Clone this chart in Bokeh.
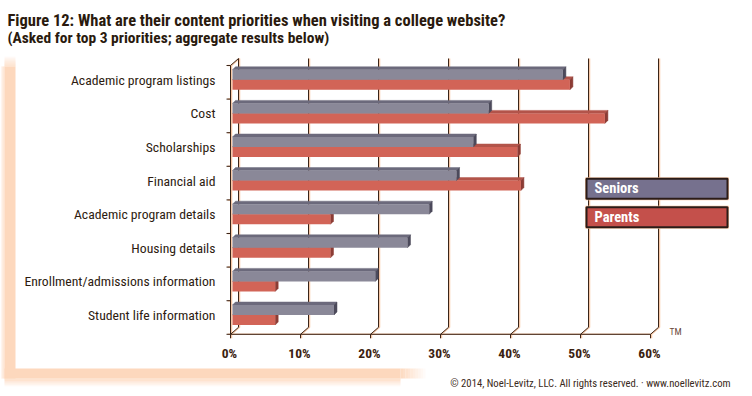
from bokeh.plotting import figure
from bokeh.models import Range1d
from bokeh.core.properties import value
from bokeh.embed import file_html
from bokeh.resources import INLINE

# ---------------- data ----------------
categories = ["Academic program listings", "Cost", "Scholarships", "Financial aid",
              "Academic program details", "Housing details",
              "Enrollment/admissions information", "Student life information"]
seniors = [47.2, 36.6, 34.4, 32.0, 28.1, 25.0, 20.4, 14.5]
parents = [48.2, 53.2, 40.7, 41.2, 14.0, 14.0, 6.1, 6.1]
series_names = ["Seniors", "Parents"]
x_ticks = [0, 10, 20, 30, 40, 50, 60]
x_tick_labels = ["0%", "10%", "20%", "30%", "40%", "50%", "60%"]
title_text = "Figure 12: What are their content priorities when visiting a college website?"
subtitle_text = "(Asked for top 3 priorities; aggregate results below)"
footer_text = "\u00a9 2014, Noel-Levitz, LLC. All rights reserved.  \u00b7  www.noellevitz.com"

# ---------------- layout ----------------
W, H = 752, 396
PXU = 7.0      # px per percent
ROW = 33.6     # px per category row
X0 = 232.0     # canvas x of 0 %
Y0 = 81.8      # canvas y of first row centre
FONT = "Roboto Condensed"

def dx(px):
    return px / PXU

def dy(px):
    return px / ROW

def X(cx):
    return (cx - X0) / PXU

def Y(cy):
    return (cy - Y0) / ROW

p = figure(width=W, height=H, x_range=Range1d(X(0), X(W)), y_range=Range1d(Y(H), Y(0)),
           output_backend="svg", toolbar_location=None, min_border=0,
           x_axis_type=None, y_axis_type=None, outline_line_color=None,
           background_fill_color="white", border_fill_color="white")

PEACH = "#fdd8bd"
# ---- peach glow frame (left + bottom) ----
n = 10
for i in range(n):
    a = (i + 1) / (n + 1)
    # left band, fading in at top
    p.quad(left=X(4), right=X(15), top=Y(56 + i), bottom=Y(57 + i), fill_color=PEACH,
           fill_alpha=a, line_color=None)
    # left band, fading out to the left edge
    p.quad(left=X(i * 0.4), right=X(i * 0.4 + 0.4), top=Y(66), bottom=Y(378),
           fill_color=PEACH, fill_alpha=a, line_color=None)
p.quad(left=X(4), right=X(15), top=Y(66), bottom=Y(378), fill_color=PEACH, line_color=None)
p.quad(left=X(4), right=X(400), top=Y(368), bottom=Y(378), fill_color=PEACH, line_color=None)
for i in range(n):
    a = 1 - (i + 1) / (n + 1)
    p.quad(left=X(4), right=X(400), top=Y(378 + i * 0.8), bottom=Y(378.8 + i * 0.8),
           fill_color=PEACH, fill_alpha=a, line_color=None)
    p.quad(left=X(400 + i * 2.5), right=X(402.5 + i * 2.5), top=Y(368), bottom=Y(378),
           fill_color=PEACH, fill_alpha=a, line_color=None)

# ---- 3D wall / grid ----
top_r = -0.5
bot_r = len(categories) - 0.5
FRONT = dx(-2)
BACK = dx(6)
DEP = dy(7)
grid_xs, grid_ys = [], []
for t in x_ticks:
    grid_xs.append([t + BACK, t + BACK, t + FRONT, t + FRONT])
    grid_ys.append([top_r - DEP, bot_r - DEP, bot_r, bot_r + dy(4)])
grid_xs.append([FRONT, FRONT])
grid_ys.append([bot_r, top_r])
grid_xs.append([FRONT, BACK])
grid_ys.append([top_r, top_r - DEP])
grid_xs.append([FRONT, x_ticks[-1] + FRONT])
grid_ys.append([bot_r, bot_r])
for j in range(len(categories) + 1):
    grid_xs.append([FRONT - dx(4), FRONT])
    grid_ys.append([top_r + j, top_r + j])

p.multi_line(xs=[[x + dx(1) for x in xs] for xs in grid_xs], ys=grid_ys,
             line_color="#f7c7a5", line_width=1.5)
p.multi_line(xs=grid_xs, ys=grid_ys, line_color="#3a2418", line_width=1)

# ---- bars ----
D3 = 3.0
def draw_bars(vals, off_top, off_bot, c_front, c_top, c_side):
    fl, fr, ft, fb = [], [], [], []
    txs, tys, sxs, sys_ = [], [], [], []
    for i, v in enumerate(vals):
        t = i + dy(off_top)
        b = i + dy(off_bot)
        fl.append(0); fr.append(v); ft.append(t); fb.append(b)
        txs.append([0, dx(D3), v + dx(D3), v])
        tys.append([t, t - dy(D3), t - dy(D3), t])
        sxs.append([v, v + dx(D3), v + dx(D3), v])
        sys_.append([t, t - dy(D3), b - dy(D3), b])
    p.patches(xs=txs, ys=tys, fill_color=c_top, line_color=c_top, line_width=0.5)
    p.patches(xs=sxs, ys=sys_, fill_color=c_side, line_color=c_side, line_width=0.5)
    p.quad(left=fl, right=fr, top=ft, bottom=fb, fill_color=c_front, line_color=None)

draw_bars(parents, -2.5, 7.5, "#d26457", "#b3544a", "#8c3c35")
draw_bars(seniors, -12.5, -2.5, "#8a8898", "#6c6a7c", "#4c4a5b")

# ---- category labels ----
p.text(x=[X(215)] * len(categories), y=[i + dy(-2.5) for i in range(len(categories))],
       text=categories, text_font=value(FONT), text_font_size="13.7px",
       text_color="#2d1b10", text_align="right", text_baseline="middle")

# ---- x tick labels ----
p.text(x=[t + FRONT - dx(1) for t in x_ticks], y=[Y(352)] * len(x_ticks), text=x_tick_labels,
       text_font=value(FONT), text_font_size="13.5px", text_font_style="bold",
       text_color="#3b2210", text_align="center", text_baseline="middle")

# ---- legend ----
leg_colors = ["#76718e", "#c4504b"]
leg_top = [178.3, 206.7]
for name, col, ty in zip(series_names, leg_colors, leg_top):
    p.quad(left=X(585), right=X(728), top=Y(ty - 1), bottom=Y(ty + 21), fill_color=None,
           line_color="#f7c7a5", line_width=1)
    p.quad(left=X(586), right=X(727), top=Y(ty), bottom=Y(ty + 20), fill_color=col,
           line_color="#2b1c18", line_width=2)
    p.text(x=[X(594)], y=[Y(ty + 10)], text=[name], text_font=value(FONT),
           text_font_size="14.5px", text_font_style="bold", text_color="white",
           text_baseline="middle")

# ---- TM ----
p.text(x=[X(669)], y=[Y(331)], text=["TM"], text_font=value(FONT), text_font_size="9.5px",
       text_color="#6b4a3a", text_baseline="middle")

# ---- titles & footer ----
p.text(x=[X(7)], y=[Y(19.5)], text=[title_text], text_font=value(FONT), text_font_size="16.5px",
       text_font_style="bold", text_color="#2a1a0e", text_baseline="alphabetic")
p.text(x=[X(7)], y=[Y(37.5)], text=[subtitle_text], text_font=value(FONT), text_font_size="15.5px",
       text_font_style="bold", text_color="#2a1a0e", text_baseline="alphabetic")
p.text(x=[X(735)], y=[Y(383)], text=[footer_text], text_font=value(FONT),
       text_font_size="10.7px", text_color="#3a2a20", text_align="right",
       text_baseline="middle")

open("out.html", "w").write(file_html(p, INLINE))
